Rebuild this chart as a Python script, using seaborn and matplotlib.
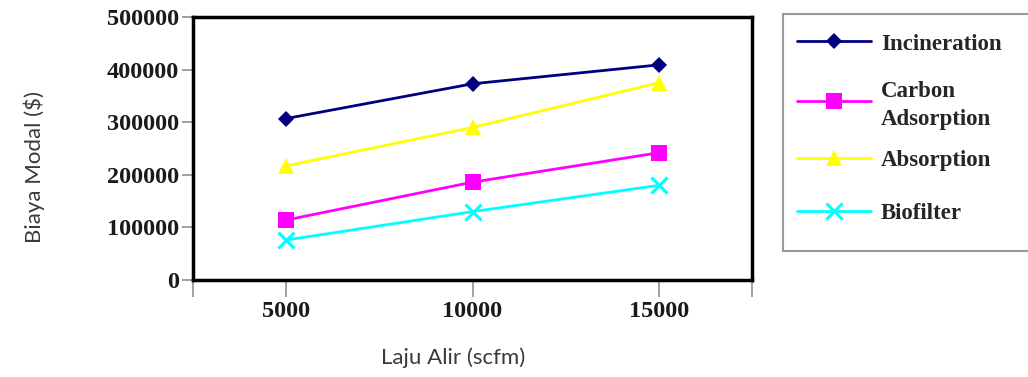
import matplotlib
matplotlib.use("Agg")
import matplotlib.pyplot as plt
import seaborn as sns
import pandas as pd

flow = [5000, 10000, 15000]
incineration = [307000, 373000, 409000]
carbon_adsorption = [114000, 186000, 242000]
absorption = [217000, 290000, 375000]
biofilter = [76000, 130000, 180000]

series_names = ["Incineration", "Carbon\nAdsorption", "Absorption", "Biofilter"]
series_values = [incineration, carbon_adsorption, absorption, biofilter]
y_ticks = [0, 100000, 200000, 300000, 400000, 500000]
x_labels = ["5000", "10000", "15000"]

sns.set_style("white")
plt.rcParams["font.family"] = ["Liberation Serif", "DejaVu Serif"]

colors = ["#000080", "#FF00FF", "#FFFF00", "#00FFFF"]
marker_list = ["D", "s", "^", "x"]
marker_sizes = [8.5, 11, 11, 11]

fig = plt.figure(figsize=(10.28, 3.77), dpi=100)
ax = fig.add_axes([193 / 1028, 1 - 280 / 377, (752 - 193) / 1028, (280 - 17) / 377])

for name, vals, c, m, ms in zip(series_names, series_values, colors, marker_list, marker_sizes):
    d = pd.DataFrame({"flow": flow, "cost": vals})
    kw = dict(markeredgewidth=0) if m != "x" else dict(markeredgewidth=2.2, markeredgecolor=c)
    sns.lineplot(data=d, x="flow", y="cost", color=c, marker=m, markersize=ms,
                 linewidth=2, label=name, ax=ax, **kw)

ax.set_xlim(2500, 17500)
ax.set_ylim(0, 500000)
ax.set_xticks([2500] + flow + [17500])
ax.set_xticklabels([""] + x_labels + [""])
ax.set_yticks(y_ticks)
ax.set_yticklabels([str(v) for v in y_ticks])

for sp in ax.spines.values():
    sp.set_visible(True)
    sp.set_color("black")
    sp.set_linewidth(2.5)

ax.tick_params(axis="y", which="major", direction="out", length=8, width=1.2,
               color="#909090", pad=2, labelsize=17.5, left=True)
ax.tick_params(axis="x", which="major", direction="out", length=12, width=1.2,
               color="#909090", pad=3, labelsize=17.5, bottom=True)
for lbl in ax.get_xticklabels() + ax.get_yticklabels():
    lbl.set_fontweight("bold")
    lbl.set_color("#1a1a1a")

ax.set_xlabel("Laju Alir (scfm)", family=["Lato", "DejaVu Sans"], fontsize=16, color="#3a3a3a")
ax.set_ylabel("Biaya Modal ($)", family=["Lato", "DejaVu Sans"], fontsize=16, color="#3a3a3a")
ax.xaxis.set_label_coords(0.465, -0.255)
ax.yaxis.set_label_coords(-0.265, 0.43)

handles, labels = ax.get_legend_handles_labels()
leg = ax.legend(handles, labels, loc="upper left",
                bbox_to_anchor=(783 / 1028, 0.35, 0.26, 1 - 14 / 377 - 0.35),
                bbox_transform=fig.transFigure, mode="expand", borderaxespad=0,
                frameon=True, fancybox=False, edgecolor="#808080",
                prop={"family": "Liberation Serif", "weight": "bold", "size": 16.5},
                handlelength=3.2, handleheight=2.2, handletextpad=0.45,
                labelspacing=0.65, borderpad=0.62)
leg.get_frame().set_linewidth(1.5)
texts = leg.get_texts()
texts[1].set_linespacing(1.4)
# nudge single-line labels up to centre on their handle line
for i, t in enumerate(texts):
    t.set_position((0, 0 if i == 1 else 5))

fig.savefig("out.png", dpi=100, facecolor="white")
